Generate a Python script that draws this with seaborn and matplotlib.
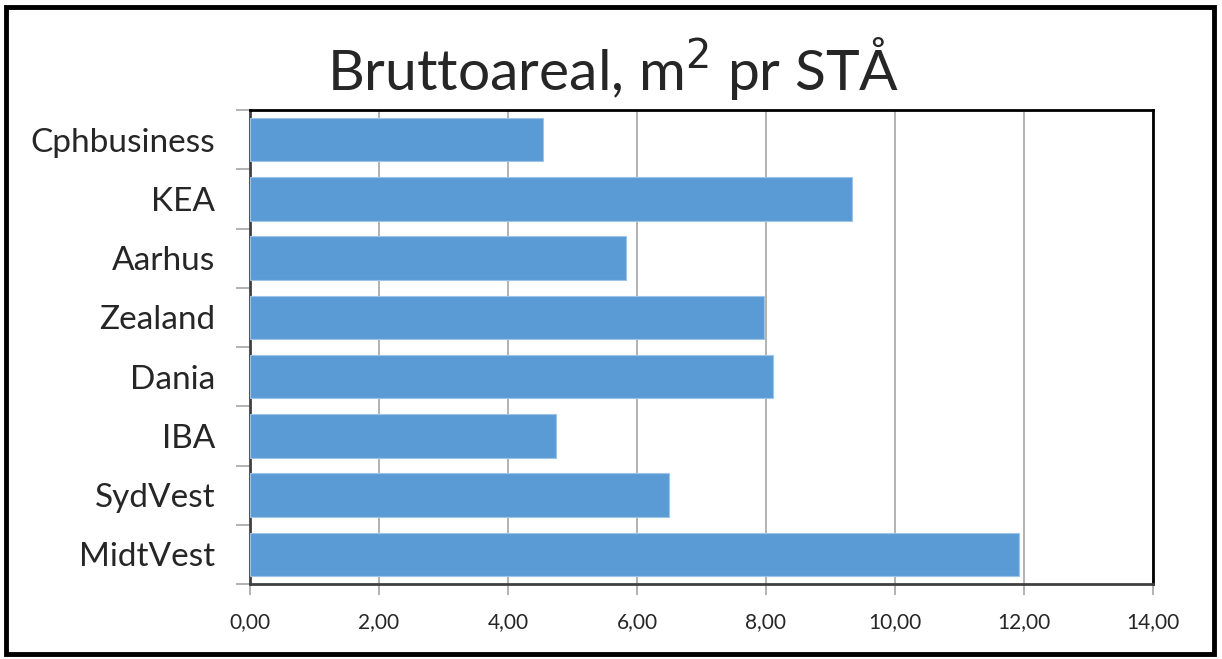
import matplotlib
matplotlib.use("Agg")
import matplotlib.pyplot as plt
import seaborn as sns
import pandas as pd
from matplotlib.patches import Rectangle
from matplotlib.ticker import FuncFormatter, MultipleLocator, FixedLocator

schools = ["Cphbusiness", "KEA", "Aarhus", "Zealand", "Dania", "IBA", "SydVest", "MidtVest"]
areal = [4.55, 9.33, 5.83, 7.97, 8.11, 4.74, 6.49, 11.93]

df = pd.DataFrame({"Skole": schools, "Areal": areal})

sns.set_style("white")
plt.rcParams["font.family"] = ["Lato", "DejaVu Sans"]

fig = plt.figure(figsize=(12.22, 6.59), dpi=100)
ax = fig.add_axes([250 / 1222, 1 - 584 / 659, 903 / 1222, 474 / 659])

sns.barplot(x="Areal", y="Skole", data=df, color="#5B9BD5", width=0.73,
            edgecolor="#9DC3E6", linewidth=0.8, saturation=1, ax=ax, zorder=3)

ax.set_xlim(0, 14)
ax.set_ylim(7.5, -0.5)
ax.xaxis.set_major_locator(MultipleLocator(2))
ax.xaxis.set_major_formatter(FuncFormatter(lambda v, p: f"{v:.2f}".replace(".", ",")))
ax.grid(axis="x", color="#A6A6A6", linewidth=1.2, zorder=0)
ax.set_axisbelow(True)

ax.set_xlabel("")
ax.set_ylabel("")
ax.tick_params(axis="y", length=0, labelsize=24, pad=25)
ax.tick_params(axis="x", bottom=True, labelsize=15, length=8, color="#A6A6A6", width=1.2,
               direction="out", pad=12)
ax.yaxis.set_minor_locator(FixedLocator([i - 0.5 for i in range(len(schools) + 1)]))
ax.tick_params(axis="y", which="minor", left=True, length=10, color="#A6A6A6", width=1.2)

for s in ["top", "right"]:
    ax.spines[s].set_color("black")
    ax.spines[s].set_linewidth(2)
for s in ["left", "bottom"]:
    ax.spines[s].set_color("#404040")
    ax.spines[s].set_linewidth(2)

fig.text(613 / 1222, 1 - 68 / 659, "Bruttoareal, m$^2$ pr STÅ", ha="center", va="center",
         fontsize=41)

fig.patches.append(Rectangle((6 / 1222, 1 - 654 / 659), 1208 / 1222, 647 / 659,
                             transform=fig.transFigure, fill=False, edgecolor="black",
                             linewidth=3.5))

fig.savefig("out.png", dpi=100)
